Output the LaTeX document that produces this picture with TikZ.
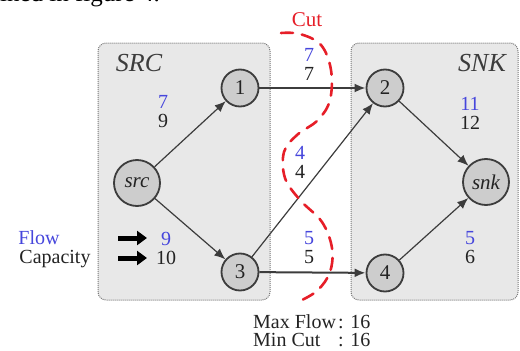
\documentclass[tikz,border=0pt]{standalone}
\usepackage{fontspec}
\setmainfont{Liberation Serif}
\usetikzlibrary{arrows.meta}
\definecolor{flowblue}{RGB}{70,70,220}
\definecolor{cutred}{RGB}{230,30,40}
\definecolor{boxfill}{RGB}{232,232,232}
\definecolor{boxline}{RGB}{120,120,120}
\definecolor{nodefill}{RGB}{205,205,205}
\definecolor{edgecol}{RGB}{60,60,60}
\definecolor{txt}{RGB}{35,35,35}
\tikzset{
  region/.style={draw=boxline, densely dotted, line width=1pt, fill=boxfill, rounded corners=8pt},
  vert/.style={circle, draw=edgecol, line width=1.8pt, fill=nodefill, minimum size=37pt, inner sep=0pt, font=\fontsize{21}{21}\selectfont, text=txt},
  bigvert/.style={vert, minimum size=46pt},
  edge/.style={draw=edgecol, line width=1.2pt, -{Latex[length=11pt,width=9pt]}},
  hedge/.style={edge, line width=2pt},
  elabel/.style={align=center, inner sep=0pt, font=\fontsize{20}{19}\selectfont, text=txt},
  regname/.style={font=\fontsize{26}{26}\selectfont\itshape, text=edgecol, inner sep=0pt},
  legarrow/.style={line width=5pt, -{Triangle[length=10pt,width=14pt]}},
  plain/.style={inner sep=0pt, font=\fontsize{20}{20}\selectfont, text=txt}
}
\begin{document}
\begin{tikzpicture}[x=1pt,y=-1pt]
\useasboundingbox (0,0) rectangle (520,351);
\node[plain, anchor=base east, font=\fontsize{25}{25}\selectfont, text=black] (top) at (160,1.5) {ined in figure 4.};
% regions
\path[region] (98,43) rectangle (270,300);
\path[region] (351,43) rectangle (518,300);
\node[regname] (srcname) at (139,63) {SRC};
\node[regname] (snkname) at (482,63) {SNK};
% vertices
\node[bigvert] (src) at (137,183) {\itshape src};
\node[vert] (n1) at (240,88) {1};
\node[vert] (n2) at (385,88) {2};
\node[vert] (n3) at (240,272) {3};
\node[vert] (n4) at (385,273) {4};
\node[bigvert] (snk) at (486,182) {\itshape snk};
% edges
\draw[edge] (src) -- (n1);
\draw[edge] (src) -- (n3);
\draw[hedge] (n1) -- (n2);
\draw[edge] (n3) -- (n2);
\draw[hedge] (n3) -- (n4);
\draw[edge] (n2) -- (snk);
\draw[edge] (n4) -- (snk);
% edge labels
\node[elabel] (l1) at (163,112) {\textcolor{flowblue}{7}\\9};
\node[elabel] (l12) at (309,64) {\textcolor{flowblue}{7}\\7};
\node[elabel] (l32) at (300,162) {\textcolor{flowblue}{4}\\4};
\node[elabel] (l34) at (309,248) {\textcolor{flowblue}{5}\\5};
\node[elabel] (l2s) at (470,113) {\textcolor{flowblue}{11}\\12};
\node[elabel] (l4s) at (470,248) {\textcolor{flowblue}{5}\\6};
\node[elabel] (l3) at (166,248) {\textcolor{flowblue}{9}\\10};
% legend
\node[plain, text=flowblue] (flow) at (39,238) {Flow};
\node[plain] (cap) at (55,259) {Capacity};
\coordinate (a1s) at (118,238);
\coordinate (a2s) at (118,258);
\draw[legarrow] (a1s) -- ++(29,0) coordinate (a1e);
\draw[legarrow] (a2s) -- ++(29,0) coordinate (a2e);
% cut
\draw[cutred, line width=2.6pt, dash pattern=on 12pt off 9pt, line cap=round]
  plot[smooth, tension=0.6] coordinates {(281,33) (300,34) (321,45) (331,70) (330,100) (318,120) (297,135) (284,152) (285,178) (300,200) (322,222) (332,248) (330,272) (318,290) (302,300)};
\node[plain, text=cutred, font=\fontsize{21}{21}\selectfont] (cut) at (307,20) {Cut};
% results
\node[plain, anchor=base west] (mf) at (253,328) {Max Flow};
\node[plain, anchor=base west] (mfv) at (338,328) {: 16};
\node[plain, anchor=base west] (mc) at (253,346) {Min Cut};
\node[plain, anchor=base west] (mcv) at (338,346) {: 16};
\end{tikzpicture}
\end{document}
